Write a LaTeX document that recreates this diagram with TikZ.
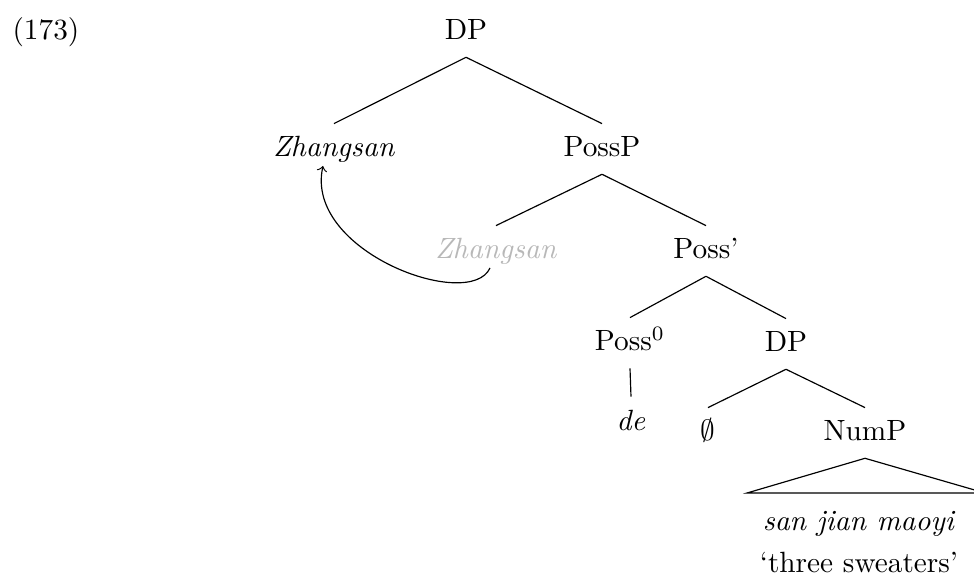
\documentclass[tikz,border=0pt]{standalone}
\usepackage{amsmath,amsfonts}
\begin{document}
\begin{tikzpicture}[x=0.3413pt,y=-0.3413pt,
  cat/.style={inner sep=1.2pt,text height=10pt,text depth=4.5pt,anchor=base},
  trace/.style={cat,text=black!28}]
\useasboundingbox (0,0) rectangle (974,585);
\node[anchor=base west,inner sep=0] (ex) at (12,40) {(173)};
\node[cat] (dp) at (466,40) {DP};
\node[cat] (zh) at (334,157) {\textit{Zhangsan}};
\node[cat] (possp) at (602,157) {PossP};
\node[trace] (zhtr) at (496,259) {\textit{Zhangsan}};
\node[cat] (possbar) at (706,259) {Poss’};
\node[cat] (poss0) at (630,351) {Poss$^0$};
\node[cat] (dpb) at (786,352) {DP};
\node[cat] (de) at (631,430) {\textit{de}};
\node[cat] (empty) at (708,441) {$\emptyset$};
\node[cat] (nump) at (865,441) {NumP};
\node[cat] (sjm) at (859,530) {\textit{san jian maoyi}};
\node[cat] (gloss) at (859,572) {‘three sweaters’};
\coordinate (roofl) at (747,493);
\coordinate (roofr) at (985,493);
\draw (dp.south) -- (zh.north);
\draw (dp.south) -- (possp.north);
\draw (possp.south) -- (zhtr.north);
\draw (possp.south) -- (possbar.north);
\draw (possbar.south) -- (poss0.north);
\draw (possbar.south) -- (dpb.north);
\draw (poss0.south) -- (de.north);
\draw (dpb.south) -- (empty.north);
\draw (dpb.south) -- (nump.north);
\draw (nump.south) -- (roofl) -- (roofr) -- cycle;
% movement
\coordinate (mvfrom) at (490,268);
\coordinate (mvto) at (323,166);
\draw[->] (mvfrom) .. controls (470,312) and (304,252) .. (mvto);
\end{tikzpicture}
\end{document}
